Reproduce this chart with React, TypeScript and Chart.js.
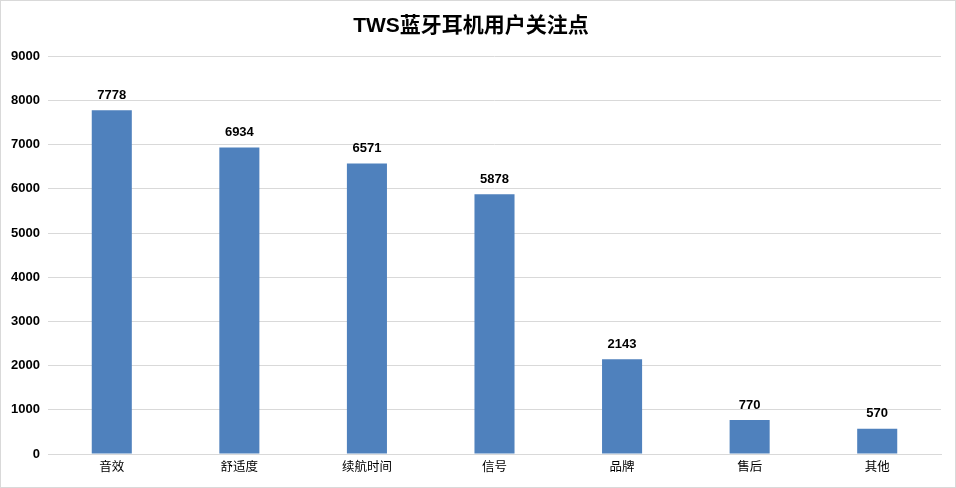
import React, { useEffect, useRef } from "react";
import { Chart, registerables } from "chart.js";

Chart.register(...registerables);

const titleText = "TWS蓝牙耳机用户关注点";
const categories = ["音效", "舒适度", "续航时间", "信号", "品牌", "售后", "其他"];
const values = [7778, 6934, 6571, 5878, 2143, 770, 570];
const yMax = 9000;
const yStep = 1000;

const FONT = "'Liberation Sans', 'Noto Sans CJK SC', Arial, sans-serif";

const labelPlugin = {
  id: "barLabels",
  afterDatasetsDraw(chart: any) {
    const ctx = chart.ctx;
    const meta = chart.getDatasetMeta(0);
    ctx.save();
    ctx.font = `bold 13px ${FONT}`;
    ctx.fillStyle = "#000";
    ctx.textAlign = "center";
    ctx.textBaseline = "middle";
    meta.data.forEach((bar: any, i: number) => {
      ctx.fillText(String(values[i]), bar.x, bar.y - 15);
    });
    ctx.restore();
  },
};

export default function App() {
  const ref = useRef<HTMLCanvasElement>(null);
  useEffect(() => {
    if (!ref.current) return;
    const chart = new Chart(ref.current, {
      type: "bar",
      data: {
        labels: categories,
        datasets: [
          {
            data: values,
            backgroundColor: "#4f81bd",
            borderWidth: 0,
            categoryPercentage: 1,
            barPercentage: 0.314,
          },
        ],
      },
      options: {
        responsive: false,
        animation: false,
        devicePixelRatio: 1,
        layout: { padding: { left: 0, right: 14, top: 0, bottom: 6 } },
        plugins: {
          legend: { display: false },
          tooltip: { enabled: false },
          title: {
            display: true,
            text: titleText,
            color: "#000",
            font: { family: FONT, size: 21, weight: "bold" },
            padding: { top: 13, bottom: 17 },
          },
        },
        scales: {
          x: {
            grid: { display: false, drawTicks: false },
            border: { display: true, color: "#d9d9d9", width: 1 },
            ticks: {
              color: "#000",
              padding: 6,
              font: { family: FONT, size: 12.5 },
              maxRotation: 0,
            },
          },
          y: {
            min: 0,
            max: yMax,
            grid: { color: "#d9d9d9", drawTicks: false },
            border: { display: false },
            ticks: {
              stepSize: yStep,
              color: "#000",
              padding: 8,
              font: { family: FONT, size: 13, weight: "bold" },
              callback: (v: any) => String(v),
            },
            afterFit(scale: any) {
              scale.width = 47;
            },
          },
        },
      },
      plugins: [labelPlugin],
    });
    return () => chart.destroy();
  }, []);
  return (
    <div
      style={{
        position: "absolute",
        left: 0,
        top: 0,
        width: 956,
        height: 488,
        boxSizing: "border-box",
        border: "1px solid #d9d9d9",
        background: "#fff",
      }}
    >
      <canvas ref={ref} width={954} height={486} style={{ display: "block" }} />
    </div>
  );
}
